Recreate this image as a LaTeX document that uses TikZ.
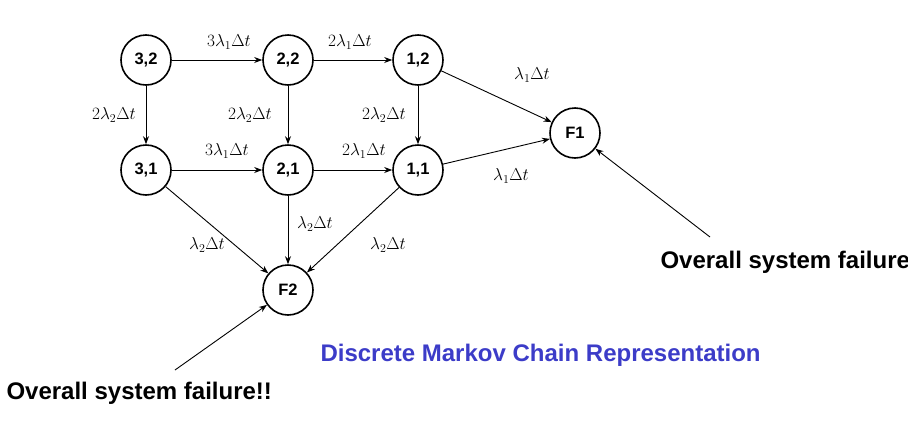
\documentclass[tikz,border=0pt]{standalone}
\usepackage{fontspec}
\setmainfont{Liberation Sans}
\usetikzlibrary{arrows.meta}
\begin{document}
\begin{tikzpicture}[x=1pt,y=-1pt,
  st/.style={circle,draw,line width=1.6pt,minimum size=50pt,inner sep=0pt,font=\bfseries\fontsize{16.5}{18}\selectfont},
  ar/.style={-{Stealth[length=8pt,width=6pt]},line width=0.9pt},
  lb/.style={font=\fontsize{18}{20}\selectfont},
  big/.style={font=\bfseries\fontsize{24}{26}\selectfont,anchor=west}]
\useasboundingbox (0,0) rectangle (908,437);
\node[st] (a32) at (146,60) {3,2};
\node[st] (a22) at (288,60) {2,2};
\node[st] (a12) at (418,60) {1,2};
\node[st] (a31) at (146,170) {3,1};
\node[st] (a21) at (288,170) {2,1};
\node[st] (a11) at (418,170) {1,1};
\node[st] (f1) at (575,133) {F1};
\node[st] (f2) at (288,290) {F2};
\draw[ar] (a32) -- (a22);
\draw[ar] (a22) -- (a12);
\draw[ar] (a31) -- (a21);
\draw[ar] (a21) -- (a11);
\draw[ar] (a32) -- (a31);
\draw[ar] (a22) -- (a21);
\draw[ar] (a12) -- (a11);
\draw[ar] (a12) -- (f1);
\draw[ar] (a11) -- (f1);
\draw[ar] (a31) -- (f2);
\draw[ar] (a21) -- (f2);
\draw[ar] (a11) -- (f2);
\node[lb] (l1) at (229,42) {$3\lambda_1\Delta t$};
\node[lb] (l2) at (350,42) {$2\lambda_1\Delta t$};
\node[lb] (l3) at (114,115) {$2\lambda_2\Delta t$};
\node[lb] (l4) at (250,115) {$2\lambda_2\Delta t$};
\node[lb] (l5) at (384,115) {$2\lambda_2\Delta t$};
\node[lb] (l6) at (227,151) {$3\lambda_1\Delta t$};
\node[lb] (l7) at (364,151) {$2\lambda_1\Delta t$};
\node[lb] (l8) at (532,75) {$\lambda_1\Delta t$};
\node[lb] (l9) at (511,176) {$\lambda_1\Delta t$};
\node[lb] (l10) at (315,224) {$\lambda_2\Delta t$};
\node[lb] (l11) at (207,245) {$\lambda_2\Delta t$};
\node[lb] (l12) at (388,245) {$\lambda_2\Delta t$};
\node[big] (t1) at (657,262) {Overall system failure};
\node[big] (t2) at (3,393) {Overall system failure!!};
\node[big,text={rgb,255:red,60;green,60;blue,200}] (t3) at (317,355) {Discrete Markov Chain Representation};
\coordinate (c1) at (710,237);
\coordinate (c2) at (175,370);
\draw[ar] (c1) -- (f1);
\draw[ar] (c2) -- (f2);
\end{tikzpicture}
\end{document}
